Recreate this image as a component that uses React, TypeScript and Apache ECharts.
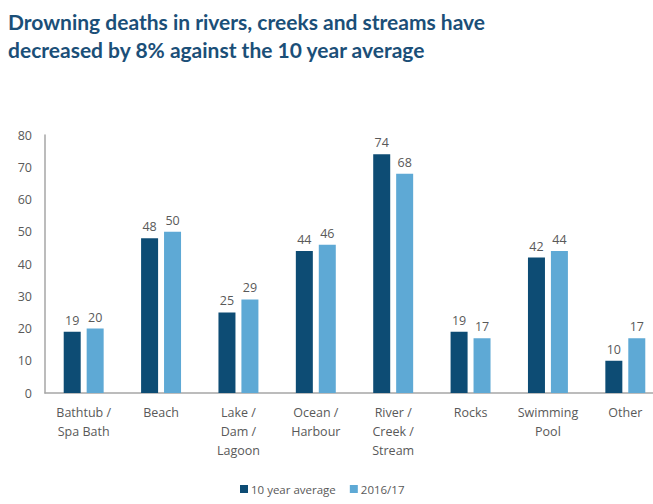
import React, { useEffect, useRef } from "react";
import * as echarts from "echarts";

const categories = [
  "Bathtub /\nSpa Bath",
  "Beach",
  "Lake /\nDam /\nLagoon",
  "Ocean /\nHarbour",
  "River /\nCreek /\nStream",
  "Rocks",
  "Swimming\nPool",
  "Other",
];
const tenYearAvg = [19, 48, 25, 44, 74, 19, 42, 10];
const season2016 = [20, 50, 29, 46, 68, 17, 44, 17];
const seriesNames = ["10 year average", "2016/17"];
const titleLines = [
  "Drowning deaths in rivers, creeks and streams have",
  "decreased by 8% against the 10 year average",
];

export default function App() {
  const ref = useRef<HTMLDivElement>(null);
  useEffect(() => {
    const chart = echarts.init(ref.current!, null, { renderer: "svg" });
    const labelStyle = {
      show: true,
      position: "top" as const,
      color: "#595959",
      fontSize: 12.5,
      fontFamily: "Open Sans",
      distance: 5,
    };
    chart.setOption({
      animation: false,
      title: {
        text: titleLines.join("\n"),
        left: 3,
        top: 2,
        textStyle: {
          color: "#1b4f78",
          fontSize: 21,
          fontWeight: "bold",
          fontFamily: "Lato",
          lineHeight: 28,
        },
      },
      legend: {
        bottom: 4,
        left: 235,
        itemWidth: 8,
        itemHeight: 8,
        itemGap: 14,
        icon: "rect",
        textStyle: { color: "#595959", fontSize: 11.5, fontFamily: "Open Sans", padding: [0, 0, 0, -2] },
        data: seriesNames,
      },
      grid: { left: 45, right: 0, top: 135, bottom: 111, containLabel: false },
      xAxis: {
        type: "category",
        data: categories,
        axisLine: { lineStyle: { color: "#a6a6a6", width: 1.5 } },
        axisTick: { show: false },
        axisLabel: {
          color: "#595959",
          fontSize: 12.5,
          fontFamily: "Open Sans",
          lineHeight: 19,
          margin: 10,
          interval: 0,
        },
      },
      yAxis: {
        type: "value",
        min: 0,
        max: 80,
        interval: 10,
        splitLine: { show: false },
        axisLine: { show: true, lineStyle: { color: "#a6a6a6", width: 1.5 } },
        axisTick: { show: false },
        axisLabel: { color: "#595959", fontSize: 12.5, fontFamily: "Open Sans", margin: 13 },
      },
      series: [
        {
          name: seriesNames[0],
          type: "bar",
          data: tenYearAvg,
          barWidth: 17,
          barGap: "35%",
          itemStyle: { color: "#0d4c74" },
          label: labelStyle,
        },
        {
          name: seriesNames[1],
          type: "bar",
          data: season2016,
          barWidth: 17,
          itemStyle: { color: "#5ea9d5" },
          label: labelStyle,
        },
      ],
    });
    return () => chart.dispose();
  }, []);
  return (
    <div
      style={{ position: "absolute", left: 0, top: 0, width: 653, height: 504, overflow: "hidden", background: "#fff" }}
    >
      <div ref={ref} style={{ width: 664, height: 504 }} />
    </div>
  );
}
